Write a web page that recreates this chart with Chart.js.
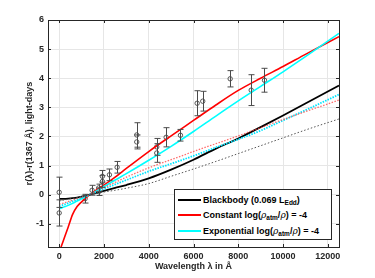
<!DOCTYPE html>
<html><head><meta charset="utf-8">
<script src="https://cdn.jsdelivr.net/npm/chart.js@4.4.1/dist/chart.umd.min.js"></script>
<style>
html,body{margin:0;padding:0;background:#fff;}
#wrap{position:relative;width:375px;height:278px;overflow:hidden;}
#legend{position:absolute;left:174px;top:189px;width:158px;height:51px;border:1px solid #262626;background:#fff;box-sizing:border-box;font:bold 9px "Liberation Sans",Arial,sans-serif;color:#000;}
.row{position:absolute;left:3px;height:12px;display:flex;align-items:center;white-space:nowrap;}
.sw{width:23px;height:2px;margin-right:2px;flex:none;}
sub{font-size:6.5px;vertical-align:-2px;line-height:0;}
i{font-style:italic;font-family:"DejaVu Serif",serif;font-weight:normal;}
</style></head><body>
<div id="wrap"><canvas id="c" width="375" height="278"></canvas>
<div id="legend">
<div class="row" style="top:4px"><span class="sw" style="background:#000"></span><span>Blackbody (0.069 L<sub>Edd</sub>)</span></div>
<div class="row" style="top:19px"><span class="sw" style="background:#ff0000"></span><span>Constant log(<i>ρ</i><sub>atm</sub>/<i>ρ</i>) = -4</span></div>
<div class="row" style="top:35px"><span class="sw" style="background:#00ffff"></span><span>Exponential log(<i>ρ</i><sub>atm</sub>/<i>ρ</i>) = -4</span></div>
</div></div>
<script>
// observed lags
const obsLambda = [0, 0, 1158, 1470, 1765, 1765, 1930, 1930, 2244, 2588, 3464, 3464, 4358, 4358, 4778, 5417, 6163, 6413, 7638, 8577, 9171];
const obsLag    = [0.08, -0.63, -0.14, 0.15, 0.23, 0.10, 0.63, 0.45, 0.68, 0.94, 2.05, 1.81, 1.64, 1.43, 1.97, 2.04, 3.14, 3.21, 3.98, 3.59, 3.93];
const obsErr    = [0.52, 0.45, 0.15, 0.17, 0.13, 0.13, 0.20, 0.20, 0.20, 0.20, 0.42, 0.24, 0.29, 0.32, 0.33, 0.20, 0.43, 0.34, 0.28, 0.53, 0.41];
// model curves
const modelLambda = [0, 200, 400, 600, 800, 1000, 1367, 2000, 2500, 3000, 4000, 5000, 6000, 7000, 8000, 9000, 10000, 11000, 12500];
const blackbody   = [-0.15, -0.145, -0.135, -0.12, -0.10, -0.07, 0, 0.13, 0.23, 0.33, 0.56, 0.86, 1.20, 1.58, 1.93, 2.32, 2.72, 3.13, 3.75];
const constant    = [-1.98, -1.55, -1.12, -0.68, -0.41, -0.25, 0, 0.33, 0.60, 0.90, 1.48, 2.02, 2.55, 3.08, 3.58, 4.00, 4.40, 4.82, 5.43];
const exponential = [-0.49, -0.43, -0.37, -0.30, -0.22, -0.14, 0, 0.28, 0.50, 0.72, 1.18, 1.66, 2.17, 2.70, 3.22, 3.72, 4.22, 4.74, 5.54];
const blackDotted = [-0.22, -0.19, -0.16, -0.13, -0.10, -0.06, 0, 0.09, 0.15, 0.22, 0.38, 0.63, 0.88, 1.14, 1.41, 1.68, 1.95, 2.22, 2.60];
const constDotted = [-0.33, -0.29, -0.24, -0.19, -0.14, -0.09, 0, 0.24, 0.42, 0.60, 0.92, 1.20, 1.48, 1.75, 2.02, 2.30, 2.58, 2.85, 3.25];
const expDotted   = [-0.40, -0.35, -0.29, -0.23, -0.17, -0.11, 0, 0.20, 0.35, 0.50, 0.80, 1.06, 1.33, 1.62, 1.90, 2.20, 2.55, 2.90, 3.44];
const xTicks = [0, 2000, 4000, 6000, 8000, 10000, 12000];
const yTicks = [-1, 0, 1, 2, 3, 4, 5, 6];

const pts = (ys) => modelLambda.map((x, i) => ({x, y: ys[i]}));
const line = (ys, color, width, dash) => ({
  type: 'line', data: pts(ys), borderColor: color, borderWidth: width,
  borderDash: dash || [], pointRadius: 0, cubicInterpolationMode: 'monotone', fill: false
});
const FONT = {family: '"Liberation Sans", Arial, sans-serif', size: 9, weight: 'bold'};
const AX = '#262626';

const framePlugin = {
  id: 'frame',
  afterDatasetsDraw(chart) {
    const {ctx, chartArea: a, scales: {x, y}} = chart;
    ctx.save();
    // error bars
    ctx.strokeStyle = '#4a4a4a'; ctx.lineWidth = 1;
    obsLambda.forEach((l, i) => {
      const px = Math.round(x.getPixelForValue(l)) + 0.5;
      const y1 = y.getPixelForValue(obsLag[i] + obsErr[i]);
      const y2 = y.getPixelForValue(obsLag[i] - obsErr[i]);
      ctx.beginPath();
      ctx.moveTo(px, y1); ctx.lineTo(px, y2);
      ctx.moveTo(px - 3, y1); ctx.lineTo(px + 3, y1);
      ctx.moveTo(px - 3, y2); ctx.lineTo(px + 3, y2);
      ctx.stroke();
    });
    // frame
    ctx.strokeStyle = AX; ctx.lineWidth = 1;
    ctx.strokeRect(Math.round(a.left) + 0.5, Math.round(a.top) + 0.5, Math.round(a.right - a.left), Math.round(a.bottom - a.top));
    ctx.beginPath();
    xTicks.forEach(v => {
      const px = Math.round(x.getPixelForValue(v)) + 0.5;
      ctx.moveTo(px, a.bottom); ctx.lineTo(px, a.bottom - 3);
      ctx.moveTo(px, a.top); ctx.lineTo(px, a.top + 3);
    });
    yTicks.forEach(v => {
      const py = Math.round(y.getPixelForValue(v)) + 0.5;
      ctx.moveTo(a.left, py); ctx.lineTo(a.left + 3, py);
      ctx.moveTo(a.right, py); ctx.lineTo(a.right - 3, py);
    });
    ctx.stroke();
    ctx.restore();
  }
};

new Chart(document.getElementById('c'), {
  type: 'line',
  data: {
    datasets: [
      line(blackDotted, '#555555', 1, [1.5, 2]),
      line(constDotted, 'rgba(255,60,60,0.75)', 1.3, [1.5, 1.5]),
      line(expDotted, '#00e5ff', 1.8, [1.5, 1.2]),
      line(blackbody, '#000000', 1.8),
      line(exponential, '#00ffff', 1.6),
      line(constant, '#ff0000', 1.6),
      {type: 'scatter', data: obsLambda.map((x, i) => ({x, y: obsLag[i]})),
       pointRadius: 2.2, pointBorderColor: '#555555', pointBackgroundColor: 'rgba(0,0,0,0)',
       pointBorderWidth: 1, showLine: false}
    ]
  },
  options: {
    responsive: false, animation: false, devicePixelRatio: 1,
    layout: {padding: {top: 20, right: 36, left: 0, bottom: 0}},
    plugins: {legend: {display: false}, tooltip: {enabled: false}},
    scales: {
      x: {
        type: 'linear', min: -500, max: 12500,
        afterBuildTicks: s => { s.ticks = xTicks.map(v => ({value: v})); },
        afterFit: s => { s.height = 31; },
        grid: {color: '#e6e6e6', drawTicks: false},
        border: {display: false},
        ticks: {color: AX, font: FONT, padding: 4, maxRotation: 0, callback: v => String(v)},
        title: {display: true, text: 'Wavelength λ in Å', color: AX, font: FONT, padding: {top: 1, bottom: 6}}
      },
      y: {
        type: 'linear', min: -1.8, max: 6,
        afterBuildTicks: s => { s.ticks = yTicks.map(v => ({value: v})); },
        afterFit: s => { s.width = 48; },
        grid: {color: '#e6e6e6', drawTicks: false},
        border: {display: false},
        ticks: {color: AX, font: FONT, padding: 4, callback: v => String(v)},
        title: {display: true, text: 'r(λ)-r(1367 Å), light-days', color: AX, font: FONT, padding: {top: 24, bottom: 0}}
      }
    }
  },
  plugins: [framePlugin]
});
</script>
</body></html>
